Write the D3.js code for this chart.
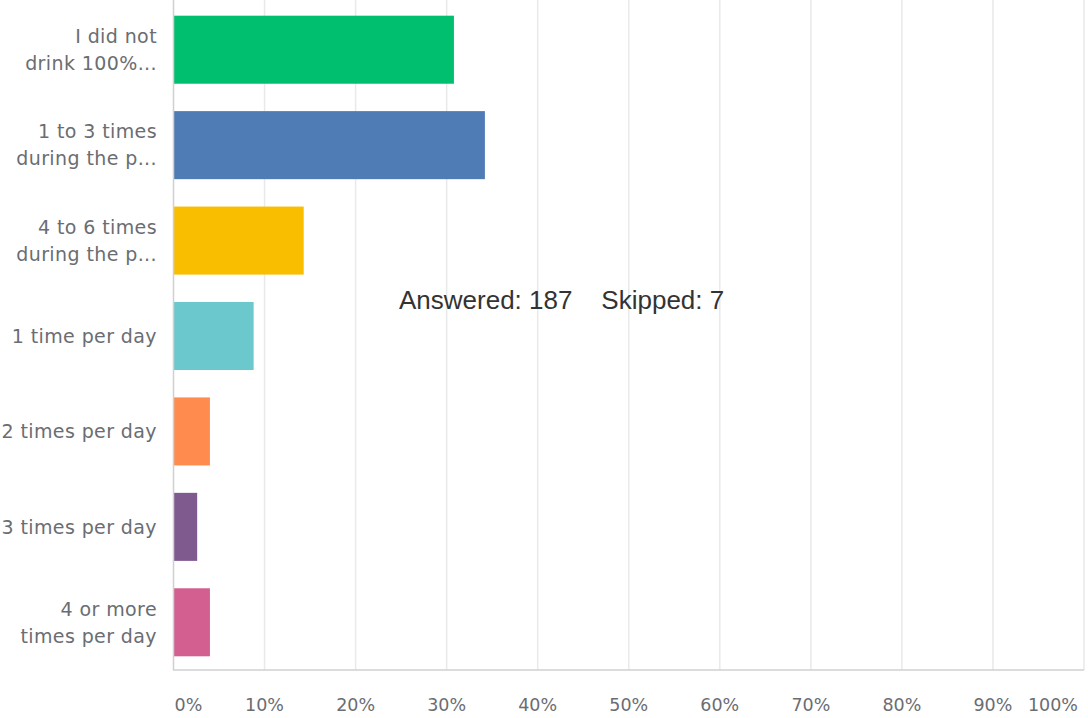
<!DOCTYPE html>
<html><head><meta charset="utf-8">
<script src="https://cdn.jsdelivr.net/npm/d3@7"></script>
<style>body{margin:0;background:#fff}</style>
</head><body>
<svg id="chart" width="1088" height="718"></svg>
<script>
const categories = [
  ["I did not", "drink 100%..."],
  ["1 to 3 times", "during the p..."],
  ["4 to 6 times", "during the p..."],
  ["1 time per day"],
  ["2 times per day"],
  ["3 times per day"],
  ["4 or more", "times per day"]
];
const values = [30.8, 34.2, 14.3, 8.8, 4.0, 2.6, 4.0];
const colors = ["#00bf6f", "#507cb6", "#f9be00", "#6bc8cd", "#ff8b4f", "#7f5a8f", "#d25f90"];
const ticks = [0,10,20,30,40,50,60,70,80,90,100];
const note = "Answered: 187    Skipped: 7";

const svg = d3.select("#chart");
const x = d3.scaleLinear().domain([0,100]).range([173.5, 1084]);
const y = d3.scaleBand().domain(d3.range(categories.length)).range([2, 670]).paddingInner(0.287).paddingOuter(0.1435);

// gridlines
svg.append("g").selectAll("line").data(ticks.slice(1)).join("line")
  .attr("x1", d=>x(d)).attr("x2", d=>x(d)).attr("y1", 0).attr("y2", 670)
  .attr("stroke", "#e9e9e9").attr("stroke-width", 1.5);

// bars
svg.append("g").selectAll("rect").data(values).join("rect")
  .attr("x", x(0)).attr("y", (d,i)=>y(i))
  .attr("width", d=>x(d)-x(0)).attr("height", y.bandwidth())
  .attr("fill", (d,i)=>colors[i]);

// axes lines
svg.append("line").attr("x1", x(0)).attr("x2", x(0)).attr("y1", 0).attr("y2", 670.5)
  .attr("stroke", "#d0d0d0").attr("stroke-width", 1.5);
svg.append("line").attr("x1", x(0)).attr("x2", x(100)).attr("y1", 670).attr("y2", 670)
  .attr("stroke", "#d0d0d0").attr("stroke-width", 1.5);

// category labels
const lab = svg.append("g").attr("font-family", "'DejaVu Sans', sans-serif")
  .attr("font-size", 19).attr("letter-spacing", 0.4).attr("fill", "#6a6d72").attr("text-anchor", "end");
categories.forEach((lines, i) => {
  const cy = y(i) + y.bandwidth()/2;
  const n = lines.length, lh = 27;
  lines.forEach((t, j) => {
    lab.append("text").attr("x", 157).attr("y", cy + (j - (n-1)/2)*lh)
      .attr("dy", "0.36em").text(t);
  });
});

// tick labels
svg.append("g").attr("font-family", "'DejaVu Sans', sans-serif")
  .attr("font-size", 17.5).attr("fill", "#6a6d72")
  .selectAll("text").data(ticks).join("text")
  .attr("x", d => d===0 ? x(d)+1 : d===100 ? x(d)-6 : x(d))
  .attr("y", 711)
  .attr("text-anchor", d => d===0 ? "start" : d===100 ? "end" : "middle")
  .text(d => d + "%");

svg.append("text").attr("x", 399).attr("y", 309)
  .attr("font-family", "'Liberation Sans', Arial, sans-serif").attr("font-size", 26)
  .attr("fill", "#333").style("white-space","pre").text(note);
</script>
</body></html>
